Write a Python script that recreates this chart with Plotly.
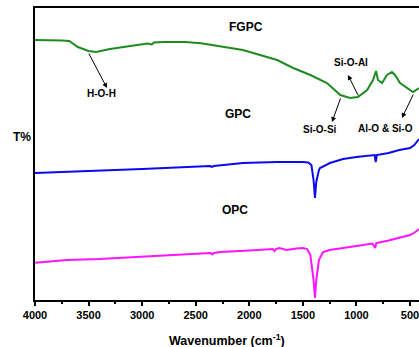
import plotly.graph_objects as go

# ---- data (wavenumber cm^-1, transmittance in arbitrary offset units) ----
fgpc_wn = [4000, 3850, 3750, 3680, 3600, 3500, 3430, 3300, 3100, 2950, 2910, 2890, 2800, 2600, 2450,
           2380, 2340, 2250, 2060, 1900, 1740, 1590, 1430, 1275, 1150, 1060, 986, 900, 845, 817, 799,
           761, 715, 668, 640, 593, 528, 472, 416]
fgpc_t = [260, 260, 259.5, 259, 253, 249, 248, 251, 254, 256.5, 255.5, 257.5, 258, 258, 256.7,
          255.5, 254.5, 253.5, 250, 245, 240, 232, 225, 217, 205, 202, 203, 210, 220, 229, 220,
          217, 225, 228, 225, 217, 212, 208, 212]

gpc_wn = [4000, 3900, 3850, 3800, 3700, 3600, 3500, 3000, 2500, 2367, 2350, 2330, 2060, 1741, 1500,
          1450, 1420, 1400, 1387, 1375, 1350, 1340, 1247, 1125, 1000, 850, 830, 820, 810, 700,
          600, 500, 460, 416]
gpc_t = [127, 127.5, 127.5, 128, 128.5, 128.5, 129, 131, 133, 134, 133, 134, 137, 138, 138,
         137.5, 135, 120, 102, 118, 130, 132, 137, 141, 143, 144.5, 145, 138, 145, 147,
         150, 152, 155, 161]

opc_wn = [4000, 3700, 3400, 3000, 2700, 2450, 2360, 2345, 2330, 2270, 2000, 1780, 1765, 1750, 1720,
          1650, 1560, 1500, 1460, 1430, 1400, 1387, 1375, 1350, 1312, 1250, 1000, 850, 825, 815,
          700, 600, 500, 450, 416]
opc_t = [37.3, 40, 41, 43, 45, 46.5, 47, 45.5, 47, 48, 49.5, 51, 49, 51, 52,
         50, 51.5, 52, 51, 45, 20, 2, 20, 40, 48, 50, 54, 56.5, 52, 57,
         59.5, 62, 65, 68, 71]

tick_vals = [4000, 3500, 3000, 2500, 2000, 1500, 1000, 500]
tick_text = [str(v) for v in tick_vals]

series_names = ["FGPC", "GPC", "OPC"]
series_colors = ["#1f8a1f", "#0a0aee", "#ff14ff"]

fig = go.Figure()
for name, wn, t, c in zip(series_names, [fgpc_wn, gpc_wn, opc_wn], [fgpc_t, gpc_t, opc_t], series_colors):
    fig.add_trace(go.Scatter(x=wn, y=t, mode="lines", name=name,
                             line=dict(color=c, width=2), showlegend=False))

font = "Liberation Sans, Arial, sans-serif"

# series labels
for txt, x, y in [("FGPC", 2031, 273), ("GPC", 2105, 186), ("OPC", 2133, 90)]:
    fig.add_annotation(x=x, y=y, xref="x", yref="y", text=f"<b>{txt}</b>", showarrow=False,
                       font=dict(family=font, size=12, color="black"))

# band labels
for txt, x, y in [("H-O-H", 3384, 207), ("Si-O-Al", 1051, 238), ("Si-O-Si", 1340, 171),
                  ("Al-O &amp; Si-O", 733, 172)]:
    fig.add_annotation(x=x, y=y, xref="x", yref="y", text=f"<b>{txt}</b>", showarrow=False,
                       font=dict(family=font, size=10, color="black"))

# arrows (head, tail)
for hx, hy, tx, ty in [(3328, 212, 3505, 248), (1228, 178, 1144, 203),
                       (1079, 225, 976, 203), (575, 182, 463, 207)]:
    fig.add_annotation(x=hx, y=hy, ax=tx, ay=ty, xref="x", yref="y", axref="x", ayref="y",
                       text="", showarrow=True, arrowhead=2, arrowsize=1, arrowwidth=1,
                       arrowcolor="black")

fig.add_annotation(x=-0.005, y=0.558, xref="paper", yref="paper", xanchor="right",
                   yanchor="middle", text="<b>T%</b>", showarrow=False,
                   font=dict(family=font, size=12, color="black"))
fig.add_annotation(x=0.5, y=-0.137, xref="paper", yref="paper", xanchor="center",
                   yanchor="middle", text="<b>Wavenumber (cm<sup>-1</sup>)</b>", showarrow=False,
                   font=dict(family=font, size=12.5, color="black"))

fig.update_xaxes(range=[4000, 416], tickvals=tick_vals, ticktext=tick_text,
                 ticks="outside", ticklen=4, tickwidth=2, tickcolor="black",
                 showline=True, linecolor="black", linewidth=2, mirror=True,
                 showgrid=False, zeroline=False, automargin=False,
                 ticklabeloverflow="allow",
                 tickfont=dict(family=font, size=11, color="black", weight="bold"),
                 minor=dict(ticks="outside", ticklen=2, tickwidth=2, tickcolor="black",
                            dtick=250, tick0=0, showgrid=False))
fig.update_yaxes(range=[0, 292], showticklabels=False, ticks="",
                 showline=True, linecolor="black", linewidth=2, mirror=False,
                 showgrid=False, zeroline=False, automargin=False)

fig.update_layout(width=419, height=347, margin=dict(l=35, r=0, t=8, b=47),
                  plot_bgcolor="white", paper_bgcolor="white")

fig.write_html("out.html", config={"displayModeBar": False},
               post_script="document.body.style.margin='0';document.body.style.padding='0';")
